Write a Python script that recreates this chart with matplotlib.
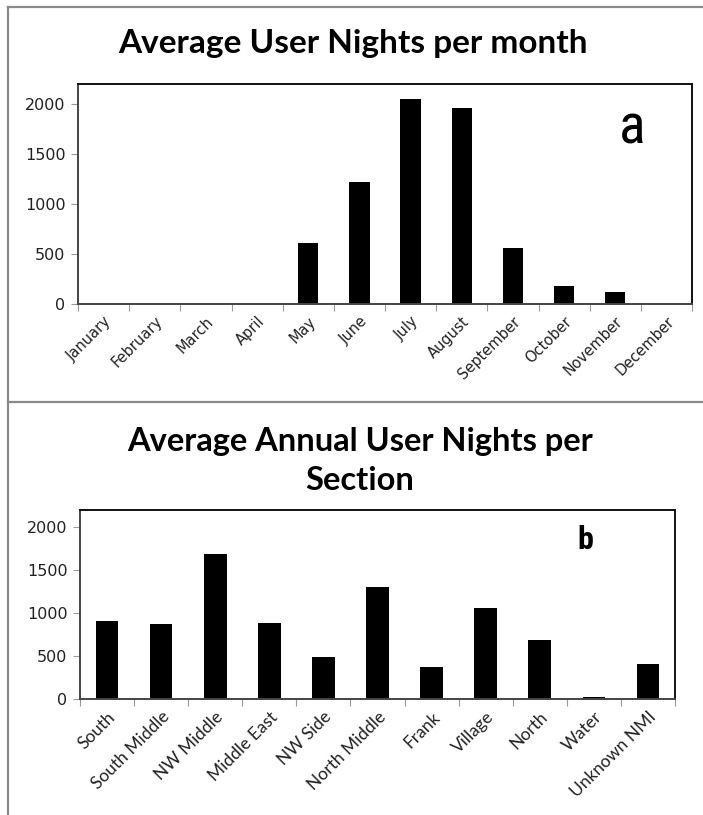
import matplotlib
matplotlib.use("Agg")
import matplotlib.pyplot as plt
from matplotlib.lines import Line2D
from matplotlib import font_manager
import numpy as np

# data
months = ["January", "February", "March", "April", "May", "June", "July",
          "August", "September", "October", "November", "December"]
month_nights = [0, 0, 0, 0, 613, 1217, 2047, 1957, 557, 183, 123, 0]

sections = ["South", "South Middle", "NW Middle", "Middle East", "NW Side",
            "North Middle", "Frank", "Village", "North", "Water", "Unknown NMI"]
section_nights = [910, 868, 1683, 887, 492, 1306, 369, 1055, 686, 22, 407]

y_ticks = [0, 500, 1000, 1500, 2000]

W, H = 703, 815
fig = plt.figure(figsize=(W / 100, H / 100), dpi=100)

# narrow face for the panel letters, if there is one
names = {f.name for f in font_manager.fontManager.ttflist}
narrow = [n for n in ["Liberation Sans Narrow", "DejaVu Sans Condensed",
                      "Roboto Condensed"] if n in names]
letter_font = narrow + ["DejaVu Sans"]


def px_box(left, top, right, bottom):
    # pixel box -> figure fraction rect
    return [left / W, 1 - bottom / H, (right - left) / W, (bottom - top) / H]


def style_axes(ax, labels, label_font, label_size):
    n = len(labels)
    ax.set_xlim(-0.5, n - 0.5)
    ax.set_ylim(0, 2200)
    ax.set_yticks(y_ticks)
    ax.set_yticklabels([str(v) for v in y_ticks], fontsize=11.5,
                       family="DejaVu Sans", color="#222222")
    # tick marks between categories, labels at the centres
    ax.set_xticks(np.arange(-0.5, n, 1.0))
    ax.set_xticklabels([])
    ax.set_xticks(np.arange(n), minor=True)
    ax.set_xticklabels(labels, minor=True, rotation=45, ha="right",
                       rotation_mode="anchor", fontsize=label_size,
                       family=label_font, color="#222222")
    ax.tick_params(axis="x", which="major", length=5, color="#999999",
                   direction="out")
    ax.tick_params(axis="x", which="minor", length=0, pad=7)
    ax.tick_params(axis="y", length=5, color="#999999", direction="out", pad=4)
    for s in ["top", "right"]:
        ax.spines[s].set_color("#111111")
        ax.spines[s].set_linewidth(1.4)
    for s in ["left", "bottom"]:
        ax.spines[s].set_color("#444444")
        ax.spines[s].set_linewidth(1.4)


# top chart
ax1 = fig.add_axes(px_box(78, 84, 692, 304))
ax1.bar(np.arange(len(months)), month_nights, width=0.4, color="black")
style_axes(ax1, months, "DejaVu Sans", 10.5)
ax1.text(0.903, 0.80, "a", transform=ax1.transAxes, ha="center", va="center",
         fontsize=40, fontstretch="condensed", family=letter_font)

fig.text(353 / W, 1 - 43 / H, "Average User Nights per month",
         ha="center", va="center", fontsize=24, fontweight="bold",
         family=["Lato", "DejaVu Sans"])

# bottom chart
ax2 = fig.add_axes(px_box(80, 510, 675, 699))
ax2.bar(np.arange(len(sections)), section_nights, width=0.42, color="black")
style_axes(ax2, sections, ["Lato", "DejaVu Sans"], 12.5)
ax2.text(0.85, 0.84, "b", transform=ax2.transAxes, ha="center", va="center",
         fontsize=23, fontweight="bold", fontstretch="condensed",
         family=letter_font)

fig.text(360 / W, 1 - 461 / H, "Average Annual User Nights per\nSection",
         ha="center", va="center", fontsize=23.5, fontweight="bold",
         linespacing=1.45, family=["Lato", "DejaVu Sans"])

# grey document frame lines
frame_col = "#8a8a8a"
fig.add_artist(Line2D([8 / W, 8 / W], [0, 1 - 7 / H], color=frame_col, lw=1.6))
fig.add_artist(Line2D([8 / W, 1], [1 - 7 / H, 1 - 7 / H], color=frame_col, lw=1.6))
fig.add_artist(Line2D([8 / W, 1], [1 - 402 / H, 1 - 402 / H], color=frame_col, lw=1.6))

fig.savefig("out.png", dpi=100, facecolor="white")
